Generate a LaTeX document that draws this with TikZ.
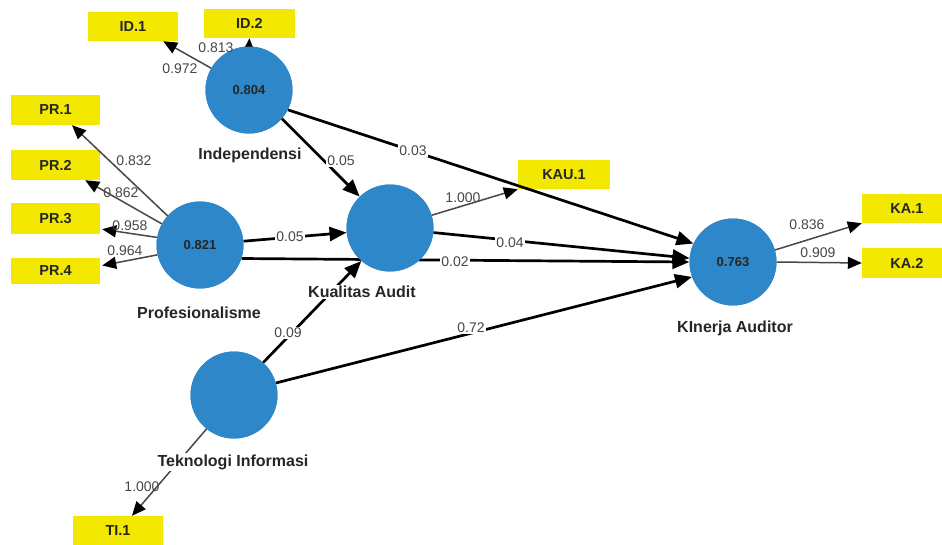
\documentclass[tikz,border=0pt]{standalone}
\usepackage{fontspec}
\setmainfont{Liberation Sans}
\usetikzlibrary{arrows.meta,calc}
\definecolor{lvblue}{RGB}{46,135,201}
\definecolor{indyellow}{RGB}{242,232,0}
\begin{document}
\begin{tikzpicture}[x=1pt,y=-1pt,
 lv/.style={circle,fill=lvblue,minimum size=87pt,inner sep=0pt,font=\bfseries\fontsize{13}{13}\selectfont,text=black!85},
 mv/.style={rectangle,fill=indyellow,minimum width=90pt,minimum height=29pt,inner sep=0pt,font=\bfseries\fontsize{14.5}{15}\selectfont,text=black!85},
 lvname/.style={fill=white,inner sep=1.5pt,font=\bfseries\fontsize{16}{16}\selectfont,text=black!85},
 coef/.style={fill=white,inner sep=1pt,font=\fontsize{14}{14}\selectfont,text=black!72},
 pathar/.style={line width=2.7pt,black,-{Triangle[length=17pt,width=14pt]}},
 loadar/.style={line width=1.5pt,black!72,-{Triangle[length=14pt,width=12pt,color=black]}}]
\clip (0,0) rectangle (942,544);
\fill[white] (0,0) rectangle (942,544);

% indicators
\node[mv] (id1) at (133,26.5) {ID.1};
\node[mv,minimum width=91pt] (id2) at (249.5,23.5) {ID.2};
\node[mv,minimum width=89pt,minimum height=30pt] (pr1) at (55.5,110) {PR.1};
\node[mv,minimum width=89pt,minimum height=30pt] (pr2) at (55.5,165) {PR.2};
\node[mv,minimum width=89pt,minimum height=31pt] (pr3) at (55.5,218.5) {PR.3};
\node[mv,minimum width=89pt,minimum height=26pt] (pr4) at (55.5,270.5) {PR.4};
\node[mv,minimum width=92pt] (kau1) at (564,174.5) {KAU.1};
\node[mv,minimum width=90pt] (ka1) at (907,208.5) {KA.1};
\node[mv,minimum width=90pt,minimum height=30pt] (ka2) at (907,263) {KA.2};
\node[mv,minimum height=30pt] (ti1) at (118,531) {TI.1};

% latent variables (positions)
\coordinate (cind) at (249,90);
\coordinate (cpro) at (200,245);
\coordinate (ckua) at (390,228);
\coordinate (ckin) at (733,262);
\coordinate (ctek) at (234,395);
\node[lv] (ind) at (cind) {0.804};
\node[lv] (pro) at (cpro) {0.821};
\node[lv] (kua) at (ckua) {};
\node[lv] (kin) at (ckin) {0.763};
\node[lv] (tek) at (ctek) {};

% structural paths
\draw[pathar] (ind.-27) -- (kin.155);
\draw[pathar] (kua.-6) -- (kin.175);
\draw[pathar] (pro.-18) -- (kin.180);
\draw[pathar] (tek.16) -- (kin.200);
\draw[pathar] (ind.-41) -- (kua.134);
\draw[pathar] (pro.5) -- (kua.186);
\draw[pathar] (tek.48) -- (kua.229);

% loadings
\draw[loadar] (ind.150) -- ($(id1.south east)+(-15,0)$);
\draw[loadar] (ind.90) -- (id2.south);
\draw[loadar] (pro.138) -- ($(pr1.south)+(16.5,0)$);
\draw[loadar] (pro.151) -- ($(pr2.south east)+(-15,0)$);
\draw[loadar] (pro.170) -- ($(pr3.south east)+(2,-5)$);
\draw[loadar] (pro.193) -- ($(pr4.east)+(2,-5)$);
\draw[loadar] (kua.17) -- (kau1.south west);
\draw[loadar] (kin.16) -- (ka1.south west);
\draw[loadar] (kin.0) -- (ka2.west);
\draw[loadar] (tek.231) -- ($(ti1.north)+(14,0)$);

% redraw circles on top
\node[lv] at (cind) {0.804};
\node[lv] at (cpro) {0.821};
\node[lv] at (ckua) {};
\node[lv] at (ckin) {0.763};
\node[lv] at (ctek) {};

% coefficient labels
\node[coef,fill=none] (l813) at (216,48) {0.813};
\node[coef,fill=none] (l972) at (180,69) {0.972};
\node[coef,fill=none] (l832) at (134,161) {0.832};
\node[coef,fill=none] (l862) at (121,193) {0.862};
\node[coef,fill=none] (l958) at (130,226) {0.958};
\node[coef,fill=none] (l964) at (125,251) {0.964};
\node[coef] (lpk) at (290,237) {0.05};
\node[coef] (l02) at (455,262) {0.02};
\node[coef] (lik) at (341,161) {0.05};
\node[coef] (l03) at (413,151) {0.03};
\node[coef,fill=none] (l1000a) at (463,198) {1.000};
\node[coef] (l04) at (510,243) {0.04};
\node[coef] (l09) at (288,333) {0.09};
\node[coef] (l72) at (471,328) {0.72};
\node[coef,fill=none] (l1000b) at (142,487) {1.000};
\node[coef,fill=none] (l836) at (807,225) {0.836};
\node[coef,fill=none] (l909) at (818,253) {0.909};

% construct names
\node[lvname] (nind) at (250,155) {Independensi};
\node[lvname] (npro) at (199,313) {Profesionalisme};
\node[lvname] (nkua) at (362,292) {Kualitas Audit};
\node[lvname] (nkin) at (735,328) {KInerja Auditor};
\node[lvname] (ntek) at (233,462) {Teknologi Informasi};
\end{tikzpicture}
\end{document}
